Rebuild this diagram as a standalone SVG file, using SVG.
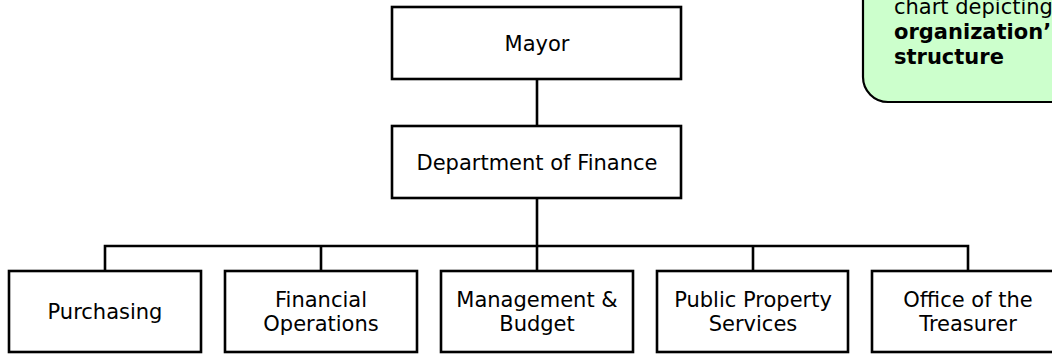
<svg xmlns="http://www.w3.org/2000/svg" width="1052" height="354" viewBox="0 0 1052 354">
<style>
.box{fill:#ffffff;stroke:#000;stroke-width:2.6}
.lbl{font-family:"DejaVu Sans",Verdana,sans-serif;font-size:21px;fill:#000;text-anchor:middle}
.conn{fill:none;stroke:#000;stroke-width:2.6}
.note{fill:#ccffcc;stroke:#000;stroke-width:2.2}
.nt{font-family:"DejaVu Sans",Verdana,sans-serif;font-size:21px;fill:#000}
</style>
<rect width="1052" height="354" fill="#ffffff"/>
<g id="connectors">
<path class="conn" d="M537 79V126M537 198V246M105 271V246H968V271M321 246V271M753 246V271M537 246V271"/>
</g>
<g id="mayor">
<rect class="box" x="392" y="7" width="289" height="72"/>
<text class="lbl" x="537" y="50.5">Mayor</text>
</g>
<g id="finance">
<rect class="box" x="392" y="126" width="289" height="72"/>
<text class="lbl" x="537" y="169.5">Department of Finance</text>
</g>
<g id="purchasing">
<rect class="box" x="9" y="271" width="192" height="81"/>
<text class="lbl" x="105" y="319">Purchasing</text>
</g>
<g id="finops">
<rect class="box" x="225" y="271" width="192" height="81"/>
<text class="lbl" x="321" y="307">Financial</text>
<text class="lbl" x="321" y="331">Operations</text>
</g>
<g id="mgmt">
<rect class="box" x="441" y="271" width="192" height="81"/>
<text class="lbl" x="537" y="307">Management &amp;</text>
<text class="lbl" x="537" y="331">Budget</text>
</g>
<g id="pps">
<rect class="box" x="657" y="271" width="191" height="81"/>
<text class="lbl" x="753" y="307">Public Property</text>
<text class="lbl" x="753" y="331">Services</text>
</g>
<g id="treasurer">
<rect class="box" x="872" y="271" width="192" height="81"/>
<text class="lbl" x="968" y="307">Office of the</text>
<text class="lbl" x="968" y="331">Treasurer</text>
</g>
<g id="callout">
<rect class="note" x="863" y="-40" width="230" height="142" rx="25"/>
<text class="nt" x="894" y="14">chart depicting</text>
<text class="nt" x="894" y="39" font-weight="bold">organization’</text>
<text class="nt" x="894" y="64" font-weight="bold">structure</text>
</g>
</svg>
